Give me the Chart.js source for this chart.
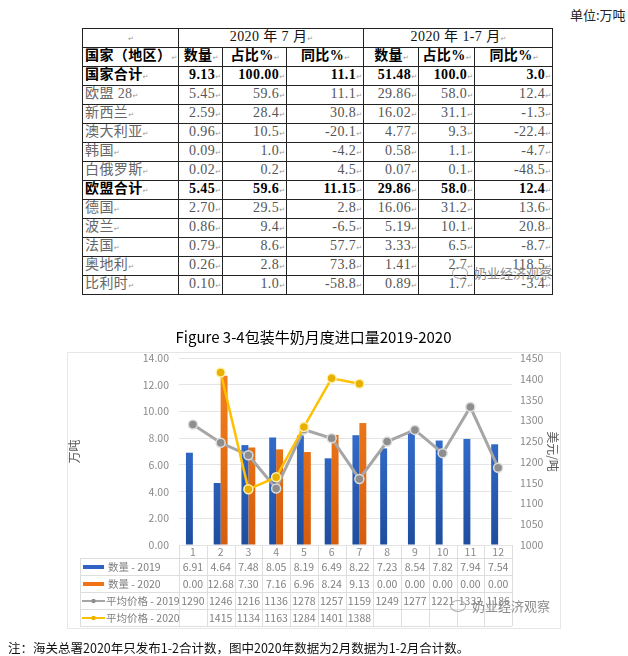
<!DOCTYPE html>
<html lang="zh">
<head>
  <meta charset="UTF-8">
  <title>包装牛奶月度进口量2019-2020</title>
  <script src="https://cdn.jsdelivr.net/npm/chart.js"></script>
  <style>
    body {
      margin: 0;
      width: 628px;
      height: 656px;
      position: relative;
      overflow: hidden;
      background: #fff;
      font-family: "Noto Sans CJK SC", sans-serif;
    }
    .unit {
      position: absolute;
      left: 570px;
      top: 5px;
      font-size: 13px;
      color: #222;
    }
    table.imp {
      position: absolute;
      left: 82px;
      top: 28px;
      width: 470px;
      border-collapse: collapse;
      table-layout: fixed;
      font-family: "Liberation Serif", "Noto Sans CJK SC", serif;
      font-size: 14px;
      letter-spacing: 0.4px;
    }
    table.imp td {
      border: 1px solid #222;
      height: 17.8px;
      padding: 0 1px 0 2px;
      line-height: 16px;
      white-space: nowrap;
      overflow: hidden;
      color: #555;
      text-align: right;
    }
    table.imp td.name { text-align: left; color: #666; }
    table.imp td.c { text-align: center; color: #111; }
    table.imp tr.b td { font-weight: bold; color: #000; }
    table.imp .m {
      font-family: "DejaVu Sans", sans-serif;
      font-size: 7px;
      color: #999;
      font-weight: normal;
      letter-spacing: 0;
    }
    #chartBox {
      position: absolute;
      left: 0;
      top: 320px;
    }
    .wm {
      position: absolute;
      font-size: 13px;
      color: #8c8c8c;
      font-family: "Liberation Serif", "Noto Sans CJK SC", serif;
    }
    .wm i {
      display: inline-block;
      width: 14px;
      height: 10px;
      border: 1px solid #aaa;
      border-radius: 50%;
      margin-right: 6px;
      vertical-align: -1px;
    }
    .note {
      position: absolute;
      left: 8px;
      top: 638px;
      font-size: 12.5px;
      color: #111;
      white-space: nowrap;
    }
  </style>
</head>
<body>
  <div class="unit">单位:万吨</div>
  <table class="imp" id="impTable"></table>
  <div class="wm" style="left:452px;top:263px;"><i></i>奶业经济观察</div>

  <div id="chartBox"><canvas id="milkChart" width="628" height="320"></canvas></div>
  <div class="wm" style="left:450px;top:596px;"><i></i>奶业经济观察</div>

  <div class="note">注：海关总署2020年只发布1-2合计数，图中2020年数据为2月数据为1-2月合计数。</div>

  <script>
    // ---- 上表：2020年7月 / 1-7月 进口来源 ----
    const regions  = ["国家合计", "欧盟 28", "新西兰", "澳大利亚", "韩国", "白俄罗斯", "欧盟合计", "德国", "波兰", "法国", "奥地利", "比利时"];
    const julQty   = ["9.13", "5.45", "2.59", "0.96", "0.09", "0.02", "5.45", "2.70", "0.86", "0.79", "0.26", "0.10"];
    const julShare = ["100.00", "59.6", "28.4", "10.5", "1.0", "0.2", "59.6", "29.5", "9.4", "8.6", "2.8", "1.0"];
    const julYoy   = ["11.1", "11.1", "30.8", "-20.1", "-4.2", "4.5", "11.15", "2.8", "-6.5", "57.7", "73.8", "-58.8"];
    const ytdQty   = ["51.48", "29.86", "16.02", "4.77", "0.58", "0.07", "29.86", "16.06", "5.19", "3.33", "1.41", "0.89"];
    const ytdShare = ["100.0", "58.0", "31.1", "9.3", "1.1", "0.1", "58.0", "31.2", "10.1", "6.5", "2.7", "1.7"];
    const ytdYoy   = ["3.0", "12.4", "-1.3", "-22.4", "-4.7", "-48.5", "12.4", "13.6", "20.8", "-8.7", "118.5", "-3.4"];
    const boldRows = ["国家合计", "欧盟合计"];

    // ---- 图 3-4 ----
    const months      = ["1", "2", "3", "4", "5", "6", "7", "8", "9", "10", "11", "12"];
    const qty2019     = [6.91, 4.64, 7.48, 8.05, 8.19, 6.49, 8.22, 7.23, 8.54, 7.82, 7.94, 7.54];
    const qty2020     = [0.00, 12.68, 7.30, 7.16, 6.96, 8.24, 9.13, 0.00, 0.00, 0.00, 0.00, 0.00];
    const price2019   = [1290, 1246, 1216, 1136, 1278, 1257, 1159, 1249, 1277, 1221, 1332, 1186];
    const price2020   = [null, 1415, 1134, 1163, 1284, 1401, 1388, null, null, null, null, null];
    const seriesNames = ["数量 - 2019", "数量 - 2020", "平均价格 - 2019", "平均价格 - 2020"];
    const qtyTicks    = [0, 14, 2];       // min, max, step
    const priceTicks  = [1000, 1450, 50];

    const mark = '<span class="m">↵</span>';
    const table = document.getElementById("impTable");
    const widths = [96, 44, 64, 77, 55, 56, 78];
    let html = "<colgroup>" + widths.map(w => `<col style="width:${w}px">`).join("") + "</colgroup>";
    html += `<tr><td class="c">${mark}</td><td class="c" colspan="3">2020 年 7 月${mark}</td><td class="c" colspan="3">2020 年 1-7 月${mark}</td></tr>`;
    html += `<tr class="b"><td class="name">国家（地区）${mark}</td>` +
      ["数量", "占比%", "同比%", "数量", "占比%", "同比%"].map(t => `<td class="c">${t}${mark}</td>`).join("") + "</tr>";
    regions.forEach((r, i) => {
      const cls = boldRows.includes(r) ? ' class="b"' : "";
      const cells = [julQty[i], julShare[i], julYoy[i], ytdQty[i], ytdShare[i], ytdYoy[i]];
      html += `<tr${cls}><td class="name">${r}${mark}</td>` + cells.map(v => `<td>${v}${mark}</td>`).join("") + "</tr>";
    });
    table.innerHTML = html;

    Chart.defaults.font.family = '"Noto Sans CJK SC", "Noto Sans", sans-serif';
    Chart.defaults.color = "#8a8a8a";

    const colors = {
      blueTop: "#3f80e8", blueBottom: "#1f4d9e",
      orangeTop: "#f7841f", orangeBottom: "#d55c0c",
      gray: "#a6a6a6", grayPoint: "#8e8e8e",
      yellow: "#ffc000", yellowPoint: "#e8b000"
    };

    function vGradient(context, top, bottom) {
      const area = context.chart.chartArea;
      if (!area) return bottom;
      const g = context.chart.ctx.createLinearGradient(0, area.top, 0, area.bottom);
      g.addColorStop(0, top);
      g.addColorStop(1, bottom);
      return g;
    }

    // 图表外框 + 下方数据表
    const dataTablePlugin = {
      id: "dataTable",
      beforeDraw(chart) {
        const ctx = chart.ctx;
        ctx.save();
        ctx.strokeStyle = "#e6e6e6";
        ctx.lineWidth = 1;
        ctx.strokeRect(67.5, 32.5, 493, 276);
        ctx.restore();
      },
      afterDraw(chart) {
        const { ctx, chartArea, scales } = chart;
        const x = scales.x;
        const rowTop = x.bottom;
        const rowH = 17;
        const tableLeft = 80;
        const half = (chartArea.right - chartArea.left) / months.length / 2;
        const rows = [
          qty2019.map(v => v.toFixed(2)),
          qty2020.map(v => v.toFixed(2)),
          price2019.map(v => v == null ? "" : String(v)),
          price2020.map(v => v == null ? "" : String(v))
        ];
        const bottom = rowTop + rows.length * rowH;

        ctx.save();
        ctx.strokeStyle = "#dedede";
        ctx.lineWidth = 1;
        ctx.beginPath();
        for (let r = 0; r <= rows.length; r++) {
          const y = Math.round(rowTop + r * rowH) + 0.5;
          ctx.moveTo(tableLeft, y);
          ctx.lineTo(chartArea.right, y);
        }
        for (let i = 0; i <= months.length; i++) {
          const px = Math.round(i < months.length ? x.getPixelForValue(i) - half : chartArea.right) + 0.5;
          ctx.moveTo(px, chartArea.bottom);
          ctx.lineTo(px, bottom);
        }
        ctx.moveTo(tableLeft + 0.5, rowTop);
        ctx.lineTo(tableLeft + 0.5, bottom);
        ctx.stroke();

        ctx.font = '10.5px "Noto Sans CJK SC", sans-serif';
        ctx.textBaseline = "middle";
        rows.forEach((vals, r) => {
          const cy = rowTop + r * rowH + rowH / 2 + 0.5;
          // legend key
          if (r < 2) {
            ctx.fillStyle = r === 0 ? "#2f62c4" : "#ee7417";
            ctx.fillRect(83, cy - 2, 21, 4);
            ctx.fillStyle = "#808080";
            ctx.textAlign = "left";
            ctx.fillText(seriesNames[r], 108, cy);
          } else {
            const c = r === 2 ? colors.gray : colors.yellow;
            ctx.strokeStyle = c;
            ctx.lineWidth = 2;
            ctx.beginPath();
            ctx.moveTo(82, cy);
            ctx.lineTo(105, cy);
            ctx.stroke();
            ctx.fillStyle = r === 2 ? colors.grayPoint : colors.yellowPoint;
            ctx.beginPath();
            ctx.arc(93.5, cy, 2.2, 0, Math.PI * 2);
            ctx.fill();
            ctx.fillStyle = "#808080";
            ctx.textAlign = "left";
            ctx.fillText(seriesNames[r], 106, cy);
          }
          ctx.textAlign = "center";
          vals.forEach((v, i) => {
            ctx.fillText(v, x.getPixelForValue(i), cy);
          });
        });
        ctx.restore();
      }
    };

    new Chart(document.getElementById("milkChart"), {
      type: "bar",
      data: {
        labels: months,
        datasets: [
          {
            type: "bar",
            label: seriesNames[0],
            data: qty2019,
            yAxisID: "y",
            order: 2,
            backgroundColor: c => vGradient(c, colors.blueTop, colors.blueBottom),
            categoryPercentage: 0.5,
            barPercentage: 1.0
          },
          {
            type: "bar",
            label: seriesNames[1],
            data: qty2020,
            yAxisID: "y",
            order: 3,
            backgroundColor: c => vGradient(c, colors.orangeTop, colors.orangeBottom),
            categoryPercentage: 0.5,
            barPercentage: 1.0
          },
          {
            type: "line",
            label: seriesNames[2],
            data: price2019,
            yAxisID: "y1",
            order: 1,
            borderColor: colors.gray,
            borderWidth: 3,
            pointRadius: 4.5,
            pointBackgroundColor: colors.grayPoint,
            pointBorderColor: "#dcdcdc",
            pointBorderWidth: 1.5,
            tension: 0
          },
          {
            type: "line",
            label: seriesNames[3],
            data: price2020,
            yAxisID: "y1",
            order: 0,
            borderColor: colors.yellow,
            borderWidth: 2.5,
            pointRadius: 4.5,
            pointBackgroundColor: colors.yellowPoint,
            pointBorderColor: "#fff0b0",
            pointBorderWidth: 1.5,
            tension: 0
          }
        ]
      },
      options: {
        responsive: false,
        animation: false,
        layout: { padding: { left: 67, right: 68, top: 0, bottom: 82 } },
        plugins: {
          legend: { display: false },
          tooltip: { enabled: false },
          title: {
            display: true,
            text: "Figure 3-4包装牛奶月度进口量2019-2020",
            color: "#000",
            font: { size: 15, weight: "normal" },
            padding: { top: 8, bottom: 12 }
          }
        },
        scales: {
          x: {
            grid: { display: false, drawTicks: false },
            border: { display: false },
            ticks: { color: "#8a8a8a", font: { size: 10.5 }, padding: 1, maxRotation: 0, autoSkip: false },
            afterFit(s) { s.height = 13; }
          },
          y: {
            position: "left",
            min: qtyTicks[0],
            max: qtyTicks[1],
            ticks: {
              stepSize: qtyTicks[2],
              callback: v => v.toFixed(2),
              color: "#8a8a8a",
              font: { size: 10.5 },
              padding: 10
            },
            grid: { color: "#e4e4e4", drawTicks: false },
            border: { display: false },
            title: { display: true, text: "万吨", color: "#5a5a5a", font: { size: 12 }, padding: 0 },
            afterFit(s) { s.width = 112; }
          },
          y1: {
            position: "right",
            min: priceTicks[0],
            max: priceTicks[1],
            ticks: {
              stepSize: priceTicks[2],
              callback: v => String(v),
              color: "#8a8a8a",
              font: { size: 10.5 },
              padding: 8
            },
            grid: { display: false, drawTicks: false },
            border: { display: false },
            title: { display: true, text: "美元/吨", color: "#5a5a5a", font: { size: 12 }, padding: 0 },
            afterFit(s) { s.width = 48; }
          }
        }
      },
      plugins: [dataTablePlugin]
    });
  </script>
</body>
</html>
